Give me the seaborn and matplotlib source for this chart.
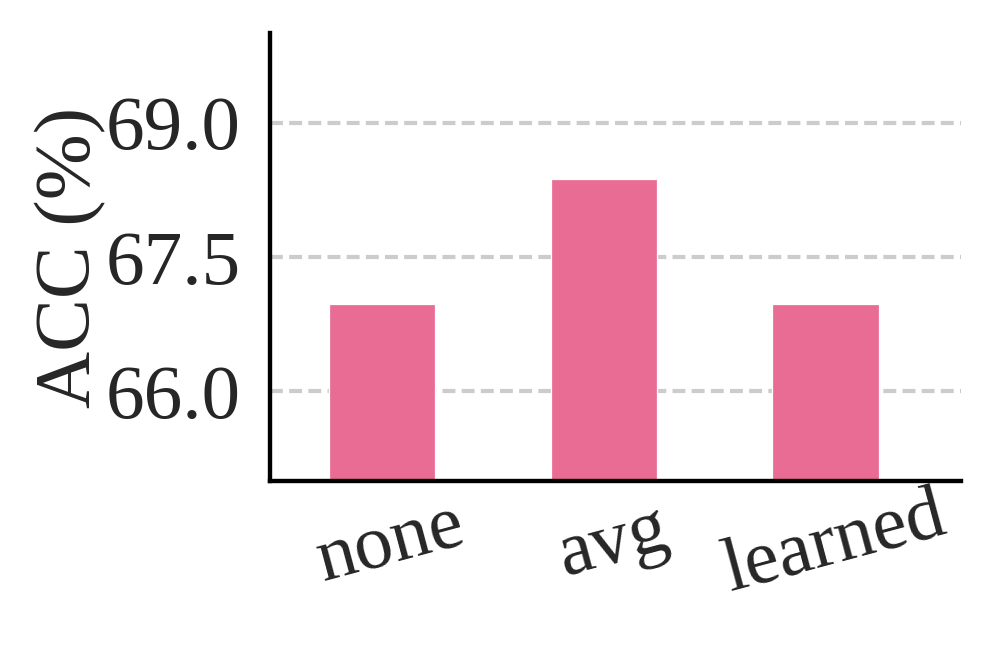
import matplotlib
matplotlib.use("Agg")
import matplotlib.pyplot as plt
import seaborn as sns
import pandas as pd

# data
methods = ["none", "avg", "learned"]
acc = [66.97, 68.37, 66.97]
yticks = [66.0, 67.5, 69.0]

bar_color = "#e96c94"
text_color = "#262626"

sns.set_theme(style="whitegrid")
plt.rcParams["font.family"] = ["Liberation Serif", "DejaVu Serif"]

df = pd.DataFrame({"method": methods, "acc": acc})

fig = plt.figure(figsize=(994 / 300, 645 / 300), dpi=300)
ax = fig.add_axes([0.2716, 0.2543, 0.6952, 0.6945])

sns.barplot(data=df, x="method", y="acc", color=bar_color, saturation=1,
            width=0.48, edgecolor="white", linewidth=0.3, ax=ax, zorder=2)

ax.set_ylim(65, 70)
ax.set_xlim(-0.505, 2.61)
ax.set_yticks(yticks)
ax.set_yticklabels([f"{t:.1f}" for t in yticks])

# dashed horizontal grid behind the bars
ax.grid(False)
ax.yaxis.grid(True, linestyle=(0, (3.1, 1.5)), color="#cccccc",
              linewidth=1.0, zorder=0)
ax.set_axisbelow(True)

for side in ["top", "right"]:
    ax.spines[side].set_visible(False)
for side in ["left", "bottom"]:
    ax.spines[side].set_color("black")
    ax.spines[side].set_linewidth(1.05)

ax.tick_params(axis="y", length=0, pad=7, labelsize=18.5, labelcolor=text_color)
ax.tick_params(axis="x", length=0, pad=7, labelsize=18.5, labelcolor=text_color)
plt.setp(ax.get_xticklabels(), rotation=15, ha="center", va="top",
         rotation_mode="anchor")

ax.set_xlabel("")
ax.set_ylabel("ACC (%)", fontsize=19, color=text_color)
ax.yaxis.set_label_coords(-0.237, 0.5)

fig.savefig("out.png", dpi=300)
plt.close(fig)
